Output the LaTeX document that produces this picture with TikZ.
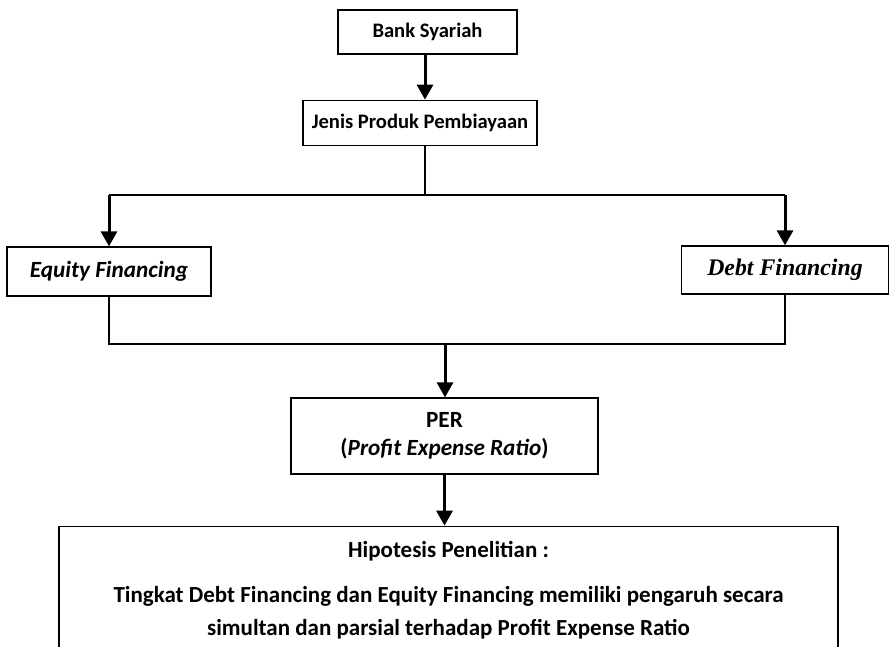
\documentclass[tikz,border=0pt]{standalone}
\usepackage{fontspec}
\setmainfont{Carlito}
\newfontfamily\timesfont{Liberation Serif}
\usepackage{tikz}
\usetikzlibrary{positioning,arrows.meta}

\begin{document}
\begin{tikzpicture}[x=1bp, y=1bp,
squarednode/.style={rectangle, draw=black, line width=1.3bp, inner sep=0pt, font=\fontsize{20.6bp}{28bp}\selectfont\bfseries},
bignode/.style={squarednode, font=\fontsize{23.2bp}{28bp}\selectfont\bfseries},
joinline/.style={draw=black, line width=1.3bp},
arrowline/.style={draw=black, line width=3bp, -{Triangle[width=16bp,length=15bp]}},
]
\clip (0,0) rectangle (889,-647);
%Nodes
\node[squarednode, minimum width=179bp, minimum height=44bp] (bank) at (427.5,-32) {Bank Syariah};
\node[squarednode, minimum width=234bp, minimum height=45bp] (jenis) [below=45bp of bank, xshift=-7.5bp] {Jenis Produk Pembiayaan};
\node[bignode, minimum width=204bp, minimum height=49bp] (equity) at (109,-271.5) {\itshape Equity Financing};
\node[bignode, minimum width=207bp, minimum height=48bp] (debt) at (785,-270) {\timesfont\fontsize{23.8bp}{28bp}\selectfont\bfseries\itshape Debt Financing};
\node[bignode, minimum width=307bp, minimum height=76bp, align=center] (per) at (444.5,-436) {PER\\(\textit{Profit Expense Ratio})};
\node[bignode, minimum width=779bp, minimum height=128bp, align=center, font=\fontsize{23bp}{33bp}\selectfont\bfseries] (hyp) [below=51bp of per, xshift=4bp] {Hipotesis Penelitian :\\[12bp]Tingkat Debt Financing dan Equity Financing memiliki pengaruh secara\\simultan dan parsial terhadap Profit Expense Ratio};
\coordinate (split) at (425,-195);
\coordinate (join) at (445,-344);

%Lines
\draw[arrowline] (bank.south -| split) -- (split |- jenis.north);
\draw[joinline] (split |- jenis.south) -- (split);
\draw[joinline] (split -| equity.north) -- (split -| debt.north);
\draw[arrowline] (split -| equity.north) -- (equity.north);
\draw[arrowline] (split -| debt.north) -- (debt.north);
\draw[joinline] (equity.south) |- (join) -| (debt.south);
\draw[arrowline] (join) -- (join |- per.north);
\draw[arrowline] (per.south) -- (per.south |- hyp.north);
\end{tikzpicture}
\end{document}
